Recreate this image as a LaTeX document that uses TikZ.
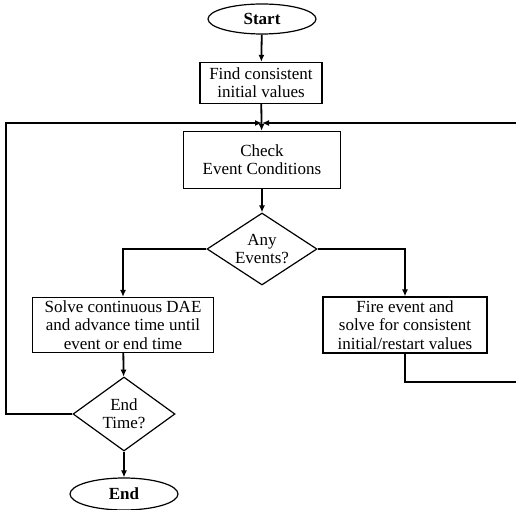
\documentclass[tikz,border=0pt]{standalone}
\usepackage{fontspec}
\setmainfont{Liberation Serif}
\usetikzlibrary{shapes.geometric,arrows.meta}
\begin{document}
\begin{tikzpicture}[x=1pt,y=-1pt,
  every node/.style={font=\fontsize{17}{18.3}\selectfont, align=center, inner sep=0pt},
  proc/.style={draw, line width=1.2pt},
  decide/.style={draw, diamond, aspect=1.5, line width=1.2pt},
  term/.style={draw, ellipse, line width=1.2pt, font=\fontsize{17}{18.3}\selectfont\bfseries},
  flow/.style={line width=1.8pt, -{Latex[length=7pt,width=6pt]}},
  link/.style={line width=1.8pt}
]
\useasboundingbox (0,0) rectangle (516,510);

% blocks of the event-handling loop
\node[term, minimum width=108pt, minimum height=30pt] (start) at (262,19) {Start};
\node[proc, minimum width=122pt, minimum height=41pt] (find) at (261,83) {Find consistent\\initial values};
\node[proc, minimum width=157pt, minimum height=57pt] (check) at (262,160) {Check\\Event Conditions};
\node[decide, minimum width=110pt, minimum height=72pt] (any) at (262,249) {Any\\Events?};
\node[proc, minimum width=181pt, minimum height=55pt] (solve) at (123,325) {Solve continuous DAE\\and advance time until\\event or end time};
\node[proc, minimum width=164pt, minimum height=56pt] (fire) at (405,325) {Fire event and\\solve for consistent\\initial/restart values};
\node[decide, minimum width=102pt, minimum height=74pt] (endt) at (124,414) {End\\Time?};
\node[term, minimum width=108pt, minimum height=32pt] (end) at (124,494) {End};

% corners of the two return paths
\coordinate (join) at (262,123);
\coordinate (lb) at (6,414);
\coordinate (lt) at (6,123);
\coordinate (rb) at (405,382);
\coordinate (rb2) at (522,382);
\coordinate (rt) at (522,123);

% main flow
\draw[flow] (start) -- (find);
\draw[flow] (find) -- (check);
\draw[flow] (check) -- (any);
\draw[flow] (any.west) -| (solve.north);
\draw[flow] (any.east) -| (fire.north);
\draw[flow] (solve) -- (endt);
\draw[flow] (endt) -- (end);

% return paths into the junction
\draw[flow] (endt.west) -- (lb) -- (lt) -- (join);
\draw[flow] (fire.south) -- (rb) -- (rb2) -- (rt) -- (join);
\end{tikzpicture}
\end{document}
